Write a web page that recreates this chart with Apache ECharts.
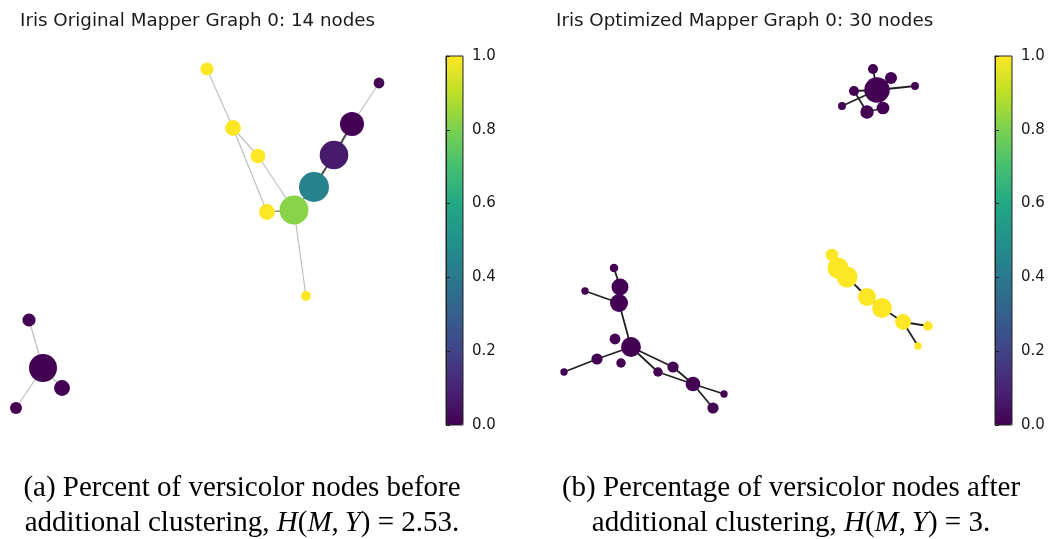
<!DOCTYPE html>
<html>
<head>
<meta charset="utf-8">
<script src="https://cdn.jsdelivr.net/npm/echarts@6/dist/echarts.min.js"></script>
<style>html,body{margin:0;padding:0;background:#fff;}#c{width:1050px;height:539px;}</style>
</head>
<body>
<div id="c"></div>
<script>
// ---- Panel (a): original mapper graph, 14 nodes ----
// node layout coordinates (x right, y up), versicolor fraction, member counts
const origX = [207, 379, 233, 352, 258, 334, 314, 294, 267, 306, 29, 43, 62, 16];
const origY = [371, 357, 312, 316, 284, 285, 253, 230, 228, 144, 120, 72, 52, 32];
const origVal = [1, 0, 1, 0, 1, 0.07, 0.44, 0.82, 1, 1, 0, 0, 0, 0];
const origMembers = [19, 13, 28, 64, 24, 91, 100, 93, 28, 11, 19, 87, 28, 16];
const origEdges = [[0,2],[2,4],[2,8],[4,7],[8,7],[7,6],[6,5],[5,3],[3,1],[7,9],[10,11],[11,12],[11,13]];
const origEdgeWeight = [1,1,1,1,2,2,3,3,1,1,1,1,1];

// ---- Panel (b): optimized mapper graph, 30 nodes ----
const optX = [327, 323, 341, 365, 304, 292, 317, 333,
              64, 70, 35, 69, 65, 81, 47, 14, 71, 108, 123, 143, 174, 163,
              282, 288, 297, 317, 332, 353, 378, 368];
const optY = [350, 371, 362, 354, 349, 334, 328, 332,
              172, 153, 149, 137, 101, 93, 81, 68, 77, 68, 73, 56, 46, 32,
              185, 172, 163, 143, 132, 118, 114, 94];
const optVal = [0,0,0,0,0,0,0,0,
                0,0,0,0,0,0,0,0,0,0,0,0,0,0,
                1,1,1,1,1,1,1,1];
const optMembers = [72, 11, 16, 7, 11, 7, 20, 18,
                    8, 32, 6, 36, 13, 44, 14, 6, 10, 10, 14, 24, 6, 14,
                    18, 49, 49, 36, 44, 28, 10, 6];
const optEdges = [[0,1],[0,2],[0,3],[4,0],[5,0],[4,6],[6,7],[7,0],
                  [8,9],[9,11],[10,11],[11,13],[13,14],[14,15],[13,18],[18,19],[13,17],[17,19],[19,20],[19,21],
                  [22,23],[23,24],[24,25],[25,26],[26,27],[27,28],[27,29]];

const cbTicks = [0, 0.2, 0.4, 0.6, 0.8, 1.0];
const viridis = ['#440154','#482475','#414487','#355f8d','#2a788e','#21918c','#22a884','#44bf70','#7ad151','#bddf26','#fde725'];

function nodes(xs, ys, vs, ms){ return xs.map((x,i)=>[x, ys[i], vs[i], ms[i]]); }
function edges(xs, ys, es, ws){
  return es.map((e,i)=>({coords:[[xs[e[0]],ys[e[0]]],[xs[e[1]],ys[e[1]]]],
    lineStyle: ws ? {width: 0.7 + 0.45*ws[i], color: ws[i]>=3 ? '#4a4a4a' : (ws[i]==2 ? '#8a8a8a' : '#bdbdbd')} : undefined}));
}

const chart = echarts.init(document.getElementById('c'), null, {renderer:'canvas'});
const txt = '#1a1a1a';
const serif = '"Liberation Serif", "Times New Roman", serif';

function caption(label, line1, tail, cx){
  const base = {fontFamily: serif, fontSize: 29, fontWeight: 'normal', color: '#000', lineHeight: 35};
  return {
    left: cx, top: 466, textAlign: 'center',
    text: '{n|' + label + ' ' + line1 + '}\n{n|additional clustering, }{i|H}{n|(}{i|M}{n|,\u2009}{i|Y}{n|) = ' + tail + '}',
    textStyle: Object.assign({}, base, {
      rich: {
        n: Object.assign({}, base),
        i: Object.assign({}, base, {fontStyle: 'italic'})
      }
    })
  };
}

const option = {
  animation: false,
  backgroundColor: '#fff',
  title: [
    {text: 'Iris Original Mapper Graph 0: 14 nodes', left: 15, top: 7,
     textStyle: {fontFamily: '"DejaVu Sans"', fontSize: 18.3, fontWeight: 'normal', color: txt}},
    {text: 'Iris Optimized Mapper Graph 0: 30 nodes', left: 551, top: 7,
     textStyle: {fontFamily: '"DejaVu Sans"', fontSize: 18.3, fontWeight: 'normal', color: txt}},
    caption('(a)', 'Percent of versicolor nodes before', '2.53.', 237),
    caption('(b)', 'Percentage of versicolor nodes after', '3.', 786)
  ],
  grid: [
    {left: 0, top: 40, width: 440, height: 400},
    {left: 550, top: 40, width: 440, height: 400},
    {left: 446, top: 56, width: 17, height: 369, show: true, borderColor: '#222', borderWidth: 1, backgroundColor: 'transparent', z: 10},
    {left: 995, top: 56, width: 17, height: 369, show: true, borderColor: '#222', borderWidth: 1, backgroundColor: 'transparent', z: 10}
  ],
  xAxis: [
    {gridIndex: 0, type: 'value', min: 0, max: 440, show: false},
    {gridIndex: 1, type: 'value', min: 0, max: 440, show: false},
    {gridIndex: 2, type: 'value', min: 0, max: 1, show: false},
    {gridIndex: 3, type: 'value', min: 0, max: 1, show: false}
  ],
  yAxis: [
    {gridIndex: 0, type: 'value', min: 0, max: 400, show: false},
    {gridIndex: 1, type: 'value', min: 0, max: 400, show: false},
    ...[2,3].map(g => ({
      gridIndex: g, type: 'value', min: 0, max: 1, interval: 0.2, position: 'right', z: 10,
      axisLine: {show: true, lineStyle: {color: '#222', width: 1}},
      axisTick: {show: true, inside: false, length: 4, lineStyle: {color: '#222', width: 1}},
      splitLine: {show: false},
      axisLabel: {show: true, margin: 9, fontFamily: '"DejaVu Sans"', fontSize: 15, color: txt,
        formatter: v => { const t = cbTicks.find(c => Math.abs(c - v) < 1e-9); return t === undefined ? '' : t.toFixed(1); }}
    }))
  ],
  visualMap: [
    {type: 'continuous', min: 0, max: 1, dimension: 2, seriesIndex: 1, calculable: false, orient: 'vertical',
     left: 446, top: 56, itemWidth: 17, itemHeight: 369, padding: 0, text: null, hoverLink: false,
     inRange: {color: viridis}},
    {type: 'continuous', min: 0, max: 1, dimension: 2, seriesIndex: 3, calculable: false, orient: 'vertical',
     left: 995, top: 56, itemWidth: 17, itemHeight: 369, padding: 0, text: null, hoverLink: false,
     inRange: {color: viridis}}
  ],
  series: [
    {type: 'lines', coordinateSystem: 'cartesian2d', xAxisIndex: 0, yAxisIndex: 0, z: 2, silent: true,
     lineStyle: {color: '#bdbdbd', width: 1, opacity: 1},
     data: edges(origX, origY, origEdges, origEdgeWeight)},
    {type: 'scatter', xAxisIndex: 0, yAxisIndex: 0, z: 3, symbol: 'circle',
     symbolSize: v => 3 * Math.sqrt(v[3]), itemStyle: {opacity: 1},
     data: nodes(origX, origY, origVal, origMembers)},
    {type: 'lines', coordinateSystem: 'cartesian2d', xAxisIndex: 1, yAxisIndex: 1, z: 2, silent: true,
     lineStyle: {color: '#222', width: 1.8, opacity: 1},
     data: edges(optX, optY, optEdges, null)},
    {type: 'scatter', xAxisIndex: 1, yAxisIndex: 1, z: 3, symbol: 'circle',
     symbolSize: v => 3 * Math.sqrt(v[3]), itemStyle: {opacity: 1},
     data: nodes(optX, optY, optVal, optMembers)}
  ]
};
chart.setOption(option);
</script>
</body>
</html>
